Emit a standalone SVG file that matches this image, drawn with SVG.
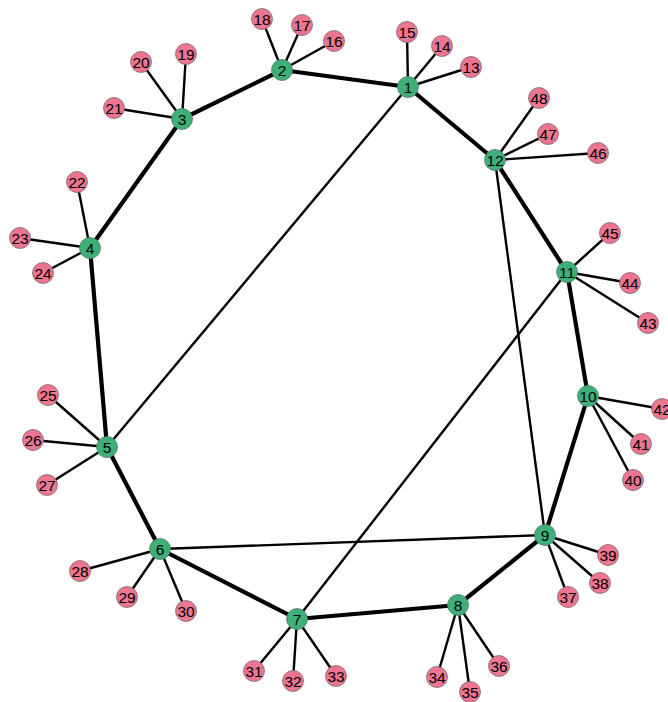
<svg xmlns="http://www.w3.org/2000/svg" width="668" height="702" viewBox="0 0 668 702">
<style>
.e{stroke:#000;stroke-width:2.4;fill:none}
.t{stroke:#000;stroke-width:4.2;fill:none}
.g{fill:#3daf78;stroke:#5a7a6a;stroke-width:0.8}
.p{fill:#ec7590;stroke:#7a6a6e;stroke-width:0.8}
text{font-family:"Liberation Sans",Arial,sans-serif;font-size:15.5px;fill:#000;text-anchor:middle;dominant-baseline:central}
</style>
<rect width="668" height="702" fill="#fff"/>
<g id="edges">
<line class="t" x1="408" y1="87" x2="282" y2="70"/>
<line class="t" x1="282" y1="70" x2="182" y2="119"/>
<line class="t" x1="182" y1="119" x2="90" y2="248"/>
<line class="t" x1="90" y1="248" x2="107" y2="447"/>
<line class="t" x1="107" y1="447" x2="160" y2="549"/>
<line class="t" x1="160" y1="549" x2="297" y2="619"/>
<line class="t" x1="297" y1="619" x2="458" y2="605"/>
<line class="t" x1="458" y1="605" x2="545" y2="535"/>
<line class="t" x1="545" y1="535" x2="588" y2="396"/>
<line class="t" x1="588" y1="396" x2="567" y2="272"/>
<line class="t" x1="567" y1="272" x2="495" y2="160"/>
<line class="t" x1="495" y1="160" x2="408" y2="87"/>
<line class="e" x1="408" y1="87" x2="107" y2="447"/>
<line class="e" x1="160" y1="549" x2="545" y2="535"/>
<line class="e" x1="297" y1="619" x2="567" y2="272"/>
<line class="e" x1="495" y1="160" x2="545" y2="535"/>
<line class="e" x1="408" y1="87" x2="471" y2="67"/>
<line class="e" x1="408" y1="87" x2="442" y2="46"/>
<line class="e" x1="408" y1="87" x2="407" y2="32"/>
<line class="e" x1="282" y1="70" x2="334" y2="41"/>
<line class="e" x1="282" y1="70" x2="302" y2="25"/>
<line class="e" x1="282" y1="70" x2="262" y2="19"/>
<line class="e" x1="182" y1="119" x2="186" y2="54"/>
<line class="e" x1="182" y1="119" x2="141" y2="62"/>
<line class="e" x1="182" y1="119" x2="114" y2="108"/>
<line class="e" x1="90" y1="248" x2="77" y2="182"/>
<line class="e" x1="90" y1="248" x2="20" y2="238"/>
<line class="e" x1="90" y1="248" x2="43" y2="273"/>
<line class="e" x1="107" y1="447" x2="48" y2="395"/>
<line class="e" x1="107" y1="447" x2="33" y2="440"/>
<line class="e" x1="107" y1="447" x2="47" y2="485"/>
<line class="e" x1="160" y1="549" x2="80" y2="571"/>
<line class="e" x1="160" y1="549" x2="127" y2="597"/>
<line class="e" x1="160" y1="549" x2="186" y2="611"/>
<line class="e" x1="297" y1="619" x2="254" y2="671"/>
<line class="e" x1="297" y1="619" x2="293" y2="681"/>
<line class="e" x1="297" y1="619" x2="336" y2="676"/>
<line class="e" x1="458" y1="605" x2="437" y2="677"/>
<line class="e" x1="458" y1="605" x2="470" y2="692"/>
<line class="e" x1="458" y1="605" x2="499" y2="666"/>
<line class="e" x1="545" y1="535" x2="568" y2="597"/>
<line class="e" x1="545" y1="535" x2="600" y2="583"/>
<line class="e" x1="545" y1="535" x2="608" y2="555"/>
<line class="e" x1="588" y1="396" x2="633" y2="480"/>
<line class="e" x1="588" y1="396" x2="641" y2="444"/>
<line class="e" x1="588" y1="396" x2="662" y2="409"/>
<line class="e" x1="567" y1="272" x2="648" y2="323"/>
<line class="e" x1="567" y1="272" x2="630" y2="283"/>
<line class="e" x1="567" y1="272" x2="610" y2="233"/>
<line class="e" x1="495" y1="160" x2="598" y2="153"/>
<line class="e" x1="495" y1="160" x2="548" y2="134"/>
<line class="e" x1="495" y1="160" x2="539" y2="98"/>
</g>
<g id="n1"><circle class="g" cx="408" cy="87" r="10.5"/><text x="408" y="87">1</text></g>
<g id="n2"><circle class="g" cx="282" cy="70" r="10.5"/><text x="282" y="70">2</text></g>
<g id="n3"><circle class="g" cx="182" cy="119" r="10.5"/><text x="182" y="119">3</text></g>
<g id="n4"><circle class="g" cx="90" cy="248" r="10.5"/><text x="90" y="248">4</text></g>
<g id="n5"><circle class="g" cx="107" cy="447" r="10.5"/><text x="107" y="447">5</text></g>
<g id="n6"><circle class="g" cx="160" cy="549" r="10.5"/><text x="160" y="549">6</text></g>
<g id="n7"><circle class="g" cx="297" cy="619" r="10.5"/><text x="297" y="619">7</text></g>
<g id="n8"><circle class="g" cx="458" cy="605" r="10.5"/><text x="458" y="605">8</text></g>
<g id="n9"><circle class="g" cx="545" cy="535" r="10.5"/><text x="545" y="535">9</text></g>
<g id="n10"><circle class="g" cx="588" cy="396" r="10.5"/><text x="588" y="396">10</text></g>
<g id="n11"><circle class="g" cx="567" cy="272" r="10.5"/><text x="567" y="272">11</text></g>
<g id="n12"><circle class="g" cx="495" cy="160" r="10.5"/><text x="495" y="160">12</text></g>
<g id="n13"><circle class="p" cx="471" cy="67" r="10.5"/><text x="471" y="67">13</text></g>
<g id="n14"><circle class="p" cx="442" cy="46" r="10.5"/><text x="442" y="46">14</text></g>
<g id="n15"><circle class="p" cx="407" cy="32" r="10.5"/><text x="407" y="32">15</text></g>
<g id="n16"><circle class="p" cx="334" cy="41" r="10.5"/><text x="334" y="41">16</text></g>
<g id="n17"><circle class="p" cx="302" cy="25" r="10.5"/><text x="302" y="25">17</text></g>
<g id="n18"><circle class="p" cx="262" cy="19" r="10.5"/><text x="262" y="19">18</text></g>
<g id="n19"><circle class="p" cx="186" cy="54" r="10.5"/><text x="186" y="54">19</text></g>
<g id="n20"><circle class="p" cx="141" cy="62" r="10.5"/><text x="141" y="62">20</text></g>
<g id="n21"><circle class="p" cx="114" cy="108" r="10.5"/><text x="114" y="108">21</text></g>
<g id="n22"><circle class="p" cx="77" cy="182" r="10.5"/><text x="77" y="182">22</text></g>
<g id="n23"><circle class="p" cx="20" cy="238" r="10.5"/><text x="20" y="238">23</text></g>
<g id="n24"><circle class="p" cx="43" cy="273" r="10.5"/><text x="43" y="273">24</text></g>
<g id="n25"><circle class="p" cx="48" cy="395" r="10.5"/><text x="48" y="395">25</text></g>
<g id="n26"><circle class="p" cx="33" cy="440" r="10.5"/><text x="33" y="440">26</text></g>
<g id="n27"><circle class="p" cx="47" cy="485" r="10.5"/><text x="47" y="485">27</text></g>
<g id="n28"><circle class="p" cx="80" cy="571" r="10.5"/><text x="80" y="571">28</text></g>
<g id="n29"><circle class="p" cx="127" cy="597" r="10.5"/><text x="127" y="597">29</text></g>
<g id="n30"><circle class="p" cx="186" cy="611" r="10.5"/><text x="186" y="611">30</text></g>
<g id="n31"><circle class="p" cx="254" cy="671" r="10.5"/><text x="254" y="671">31</text></g>
<g id="n32"><circle class="p" cx="293" cy="681" r="10.5"/><text x="293" y="681">32</text></g>
<g id="n33"><circle class="p" cx="336" cy="676" r="10.5"/><text x="336" y="676">33</text></g>
<g id="n34"><circle class="p" cx="437" cy="677" r="10.5"/><text x="437" y="677">34</text></g>
<g id="n35"><circle class="p" cx="470" cy="692" r="10.5"/><text x="470" y="692">35</text></g>
<g id="n36"><circle class="p" cx="499" cy="666" r="10.5"/><text x="499" y="666">36</text></g>
<g id="n37"><circle class="p" cx="568" cy="597" r="10.5"/><text x="568" y="597">37</text></g>
<g id="n38"><circle class="p" cx="600" cy="583" r="10.5"/><text x="600" y="583">38</text></g>
<g id="n39"><circle class="p" cx="608" cy="555" r="10.5"/><text x="608" y="555">39</text></g>
<g id="n40"><circle class="p" cx="633" cy="480" r="10.5"/><text x="633" y="480">40</text></g>
<g id="n41"><circle class="p" cx="641" cy="444" r="10.5"/><text x="641" y="444">41</text></g>
<g id="n42"><circle class="p" cx="662" cy="409" r="10.5"/><text x="662" y="409">42</text></g>
<g id="n43"><circle class="p" cx="648" cy="323" r="10.5"/><text x="648" y="323">43</text></g>
<g id="n44"><circle class="p" cx="630" cy="283" r="10.5"/><text x="630" y="283">44</text></g>
<g id="n45"><circle class="p" cx="610" cy="233" r="10.5"/><text x="610" y="233">45</text></g>
<g id="n46"><circle class="p" cx="598" cy="153" r="10.5"/><text x="598" y="153">46</text></g>
<g id="n47"><circle class="p" cx="548" cy="134" r="10.5"/><text x="548" y="134">47</text></g>
<g id="n48"><circle class="p" cx="539" cy="98" r="10.5"/><text x="539" y="98">48</text></g>
</svg>
